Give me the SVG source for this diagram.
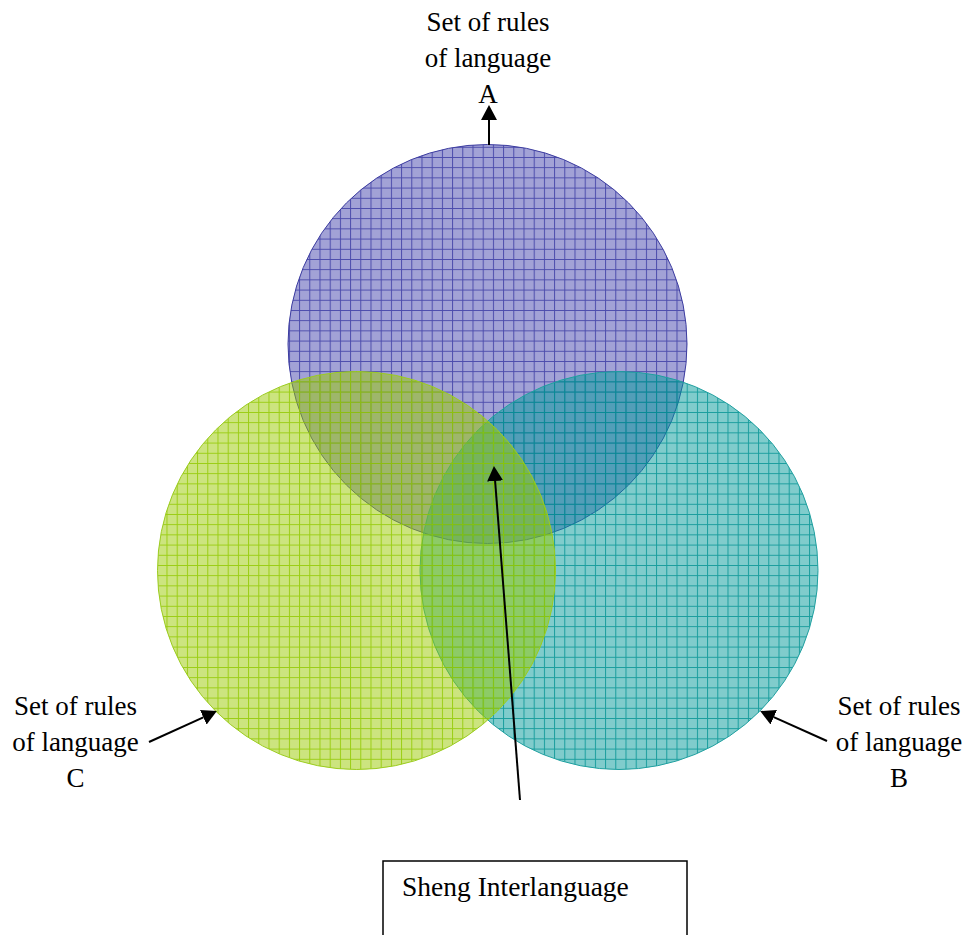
<svg xmlns="http://www.w3.org/2000/svg" width="969" height="935" viewBox="0 0 969 935">
<style>
.lbl{font-family:"Liberation Serif","Times New Roman",serif;font-size:27px;fill:#000;text-anchor:middle}
.box{font-family:"Liberation Serif","Times New Roman",serif;font-size:27.5px;fill:#000}
.conn{stroke:#000;stroke-width:2;fill:none;marker-end:url(#ah)}
</style>
<defs>
<marker id="ah" markerUnits="userSpaceOnUse" markerWidth="16" markerHeight="16" refX="0" refY="7.5" orient="auto" viewBox="0 0 15 15">
<path d="M0,0 L14,7.5 L0,15 z" fill="#000"/>
</marker>
<pattern id="pBlue" patternUnits="userSpaceOnUse" x="3.3" y="4" width="10.2" height="10.2">
<rect width="10.2" height="10.2" fill="#a2a2d6"/>
<path d="M0.5,0 V10.2 M0,0.5 H10.2" stroke="#4c4cac" stroke-width="1"/>
</pattern>
<pattern id="pTeal" patternUnits="userSpaceOnUse" x="3.3" y="4" width="10.2" height="10.2">
<rect width="10.2" height="10.2" fill="#019999" fill-opacity="0.5"/>
<path d="M0.5,0 V10.2 M0,0.5 H10.2" stroke="#009292" stroke-opacity="0.8" stroke-width="1"/>
</pattern>
<pattern id="pGreen" patternUnits="userSpaceOnUse" x="3.3" y="4" width="10.2" height="10.2">
<rect width="10.2" height="10.2" fill="#99c900" fill-opacity="0.5"/>
<path d="M0.5,0 V10.2 M0,0.5 H10.2" stroke="#92c900" stroke-opacity="0.85" stroke-width="1"/>
</pattern>
</defs>
<rect width="969" height="935" fill="#fff"/>
<g id="circleA">
<circle cx="487.5" cy="344" r="199.5" fill="url(#pBlue)" stroke="#3c3ca0" stroke-width="1"/>
</g>
<g id="circleB">
<circle cx="619" cy="570.5" r="199" fill="url(#pTeal)" stroke="#20a0a0" stroke-width="1"/>
</g>
<g id="circleC">
<circle cx="356.5" cy="570.5" r="199" fill="url(#pGreen)" stroke="#9ccc20" stroke-width="1"/>
</g>
<g id="labelA">
<text class="lbl" x="488" y="31">Set of rules</text>
<text class="lbl" x="488" y="67">of language</text>
<text class="lbl" x="488" y="103">A</text>
</g>
<g id="labelC">
<text class="lbl" x="75.5" y="715">Set of rules</text>
<text class="lbl" x="75.5" y="751">of language</text>
<text class="lbl" x="75.5" y="787">C</text>
</g>
<g id="labelB">
<text class="lbl" x="899" y="715">Set of rules</text>
<text class="lbl" x="899" y="751">of language</text>
<text class="lbl" x="899" y="787">B</text>
</g>
<g id="shengBox">
<rect x="383" y="861" width="304" height="100" fill="#fff" stroke="#000" stroke-width="1.5"/>
<text class="box" x="402" y="896">Sheng Interlanguage</text>
</g>
<g id="connectors">
<line class="conn" x1="489" y1="145" x2="489" y2="120"/>
<line class="conn" x1="149" y1="742" x2="203.3" y2="717.3"/>
<line class="conn" x1="827" y1="741" x2="773.8" y2="717.2"/>
<line class="conn" x1="520" y1="800" x2="495.1" y2="481"/>
</g>
</svg>
